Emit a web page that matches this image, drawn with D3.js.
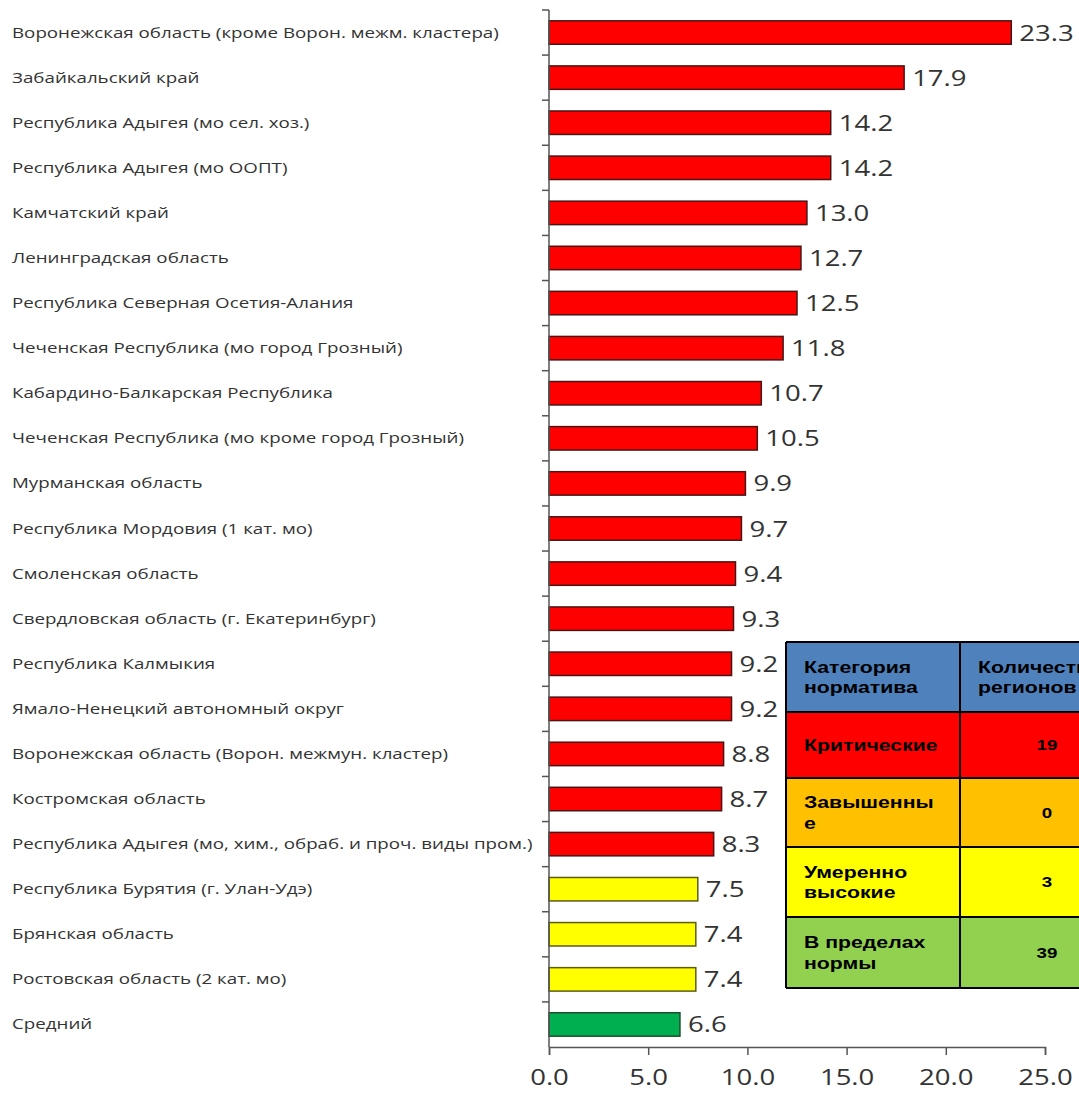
<!DOCTYPE html>
<html>
<head>
<meta charset="utf-8">
<script src="https://cdn.jsdelivr.net/npm/d3@7"></script>
<style>
  body { margin: 0; background: #fff; }
  svg { display: block; }
</style>
</head>
<body>
<div id="vis"></div>
<script>
// data
const REGIONS = [
  "Воронежская область (кроме Ворон. межм. кластера)",
  "Забайкальский край",
  "Республика Адыгея (мо сел. хоз.)",
  "Республика Адыгея (мо ООПТ)",
  "Камчатский край",
  "Ленинградская область",
  "Республика Северная Осетия-Алания",
  "Чеченская Республика (мо город Грозный)",
  "Кабардино-Балкарская Республика",
  "Чеченская Республика (мо кроме город Грозный)",
  "Мурманская область",
  "Республика Мордовия (1 кат. мо)",
  "Смоленская область",
  "Свердловская область (г. Екатеринбург)",
  "Республика Калмыкия",
  "Ямало-Ненецкий автономный округ",
  "Воронежская область (Ворон. межмун. кластер)",
  "Костромская область",
  "Республика Адыгея (мо, хим., обраб. и проч. виды пром.)",
  "Республика Бурятия (г. Улан-Удэ)",
  "Брянская область",
  "Ростовская область (2 кат. мо)",
  "Средний"
];
const VALUES = [23.3, 17.9, 14.2, 14.2, 13.0, 12.7, 12.5, 11.8, 10.7, 10.5, 9.9, 9.7, 9.4, 9.3, 9.2, 9.2, 8.8, 8.7, 8.3, 7.5, 7.4, 7.4, 6.6];
const LEVELS = ["crit","crit","crit","crit","crit","crit","crit","crit","crit","crit",
                "crit","crit","crit","crit","crit","crit","crit","crit","crit",
                "mod","mod","mod","avg"];
const X_TICKS = [0, 5, 10, 15, 20, 25];

// legend table
const TABLE_HEADER = [["Категория", "норматива"], ["Количество", "регионов"]];
const TABLE_CATS = [["Критические"], ["Завышенны", "е"], ["Умеренно", "высокие"], ["В пределах", "нормы"]];
const TABLE_COUNTS = [19, 0, 3, 39];

const FRAME_WIDTH = 1079;
const FRAME_HEIGHT = 1095;
const MARGINS = {left: 549, right: 34, top: 10, bottom: 48};
// the source picture is stretched sideways, so text gets widened too
const STRETCH = "scale(1.25,1)";

const BAR_FILL = {crit: "#ff0000", mod: "#ffff00", avg: "#00b050"};
const BAR_STROKE = {crit: "#4a1414", mod: "#5c5c14", avg: "#1e4d2b"};
const TABLE_FILLS = ["#ff0000", "#ffc000", "#ffff00", "#92d050"];

const svg = d3.select("#vis").append("svg")
  .attr("width", FRAME_WIDTH)
  .attr("height", FRAME_HEIGHT);

const X_SCALE = d3.scaleLinear()
  .domain([0, 25])
  .range([MARGINS.left, FRAME_WIDTH - MARGINS.right]);

const Y_SCALE = d3.scaleBand()
  .domain(REGIONS)
  .range([MARGINS.top, FRAME_HEIGHT - MARGINS.bottom])
  .paddingInner(0.48)
  .paddingOuter(0.24);

const bottom = FRAME_HEIGHT - MARGINS.bottom;
const step = Y_SCALE.step();

// bars
svg.append("g").selectAll("rect")
  .data(REGIONS)
  .join("rect")
  .attr("x", X_SCALE(0))
  .attr("y", d => Y_SCALE(d))
  .attr("width", (d, i) => X_SCALE(VALUES[i]) - X_SCALE(0))
  .attr("height", Y_SCALE.bandwidth())
  .attr("fill", (d, i) => BAR_FILL[LEVELS[i]])
  .attr("stroke", (d, i) => BAR_STROKE[LEVELS[i]])
  .attr("stroke-width", 1.5);

// value labels
svg.append("g").selectAll("text")
  .data(REGIONS)
  .join("text")
  .attr("transform", (d, i) => "translate(" + (X_SCALE(VALUES[i]) + 8) + "," + (Y_SCALE(d) + Y_SCALE.bandwidth() / 2 + 8) + ") " + STRETCH)
  .attr("font-family", "Open Sans, sans-serif")
  .attr("font-size", "22px")
  .attr("fill", "#333")
  .text((d, i) => VALUES[i].toFixed(1));

// category labels on the left
svg.append("g").selectAll("text")
  .data(REGIONS)
  .join("text")
  .attr("transform", d => "translate(12," + (Y_SCALE(d) + Y_SCALE.bandwidth() / 2 + 5) + ") " + STRETCH)
  .attr("font-family", "Open Sans, sans-serif")
  .attr("font-size", "15px")
  .attr("fill", "#333")
  .text(d => d);

// y axis: line + ticks at band edges
const yAxis = svg.append("g").attr("stroke", "#555").attr("stroke-width", 1.5);
yAxis.append("line")
  .attr("x1", X_SCALE(0)).attr("x2", X_SCALE(0))
  .attr("y1", MARGINS.top).attr("y2", bottom);
yAxis.selectAll("line.tick")
  .data(d3.range(REGIONS.length))
  .join("line")
  .attr("class", "tick")
  .attr("x1", X_SCALE(0) - 7).attr("x2", X_SCALE(0))
  .attr("y1", i => MARGINS.top + i * step)
  .attr("y2", i => MARGINS.top + i * step);

// x axis
const xAxis = svg.append("g")
  .attr("transform", "translate(0," + bottom + ")")
  .call(d3.axisBottom(X_SCALE).tickValues(X_TICKS).tickFormat(d3.format(".1f")).tickSizeOuter(0).tickSize(8).tickPadding(14));
xAxis.select(".domain").attr("stroke", "#555").attr("stroke-width", 1.5);
xAxis.selectAll(".tick line").attr("stroke", "#555").attr("stroke-width", 1.5);
xAxis.selectAll(".tick text")
  .attr("transform", STRETCH)
  .attr("font-family", "Open Sans, sans-serif")
  .attr("font-size", "22px")
  .attr("fill", "#333");

// legend table
const T_X = [786, 960, 1140];
const T_Y = [642, 712, 778, 847, 917, 988];
const tbl = svg.append("g");

tbl.selectAll("rect.row")
  .data(d3.range(5))
  .join("rect")
  .attr("class", "row")
  .attr("x", T_X[0]).attr("y", i => T_Y[i])
  .attr("width", T_X[2] - T_X[0]).attr("height", i => T_Y[i + 1] - T_Y[i])
  .attr("fill", i => i === 0 ? "#4f81bd" : TABLE_FILLS[i - 1]);

tbl.selectAll("line.h")
  .data(T_Y)
  .join("line")
  .attr("x1", T_X[0]).attr("x2", T_X[2])
  .attr("y1", d => d).attr("y2", d => d)
  .attr("stroke", "#000").attr("stroke-width", 2);
tbl.selectAll("line.v")
  .data(T_X)
  .join("line")
  .attr("class", "v")
  .attr("x1", d => d).attr("x2", d => d)
  .attr("y1", T_Y[0]).attr("y2", T_Y[5])
  .attr("stroke", "#000").attr("stroke-width", 2);

function cellText(lines, x, yMid, size, anchor) {
  const lh = size * 1.2;
  const y0 = -(lines.length - 1) * lh / 2 + size * 0.35;
  const t = tbl.append("text")
    .attr("transform", "translate(" + x + "," + yMid + ") " + STRETCH)
    .attr("font-family", "Liberation Sans, Arial, sans-serif")
    .attr("font-weight", "bold")
    .attr("font-size", size + "px")
    .attr("fill", "#000")
    .attr("text-anchor", anchor);
  lines.forEach((l, i) => {
    t.append("tspan").attr("x", 0).attr("y", y0 + i * lh).text(l);
  });
}

TABLE_HEADER.forEach((lines, c) => {
  cellText(lines, T_X[c] + 18, (T_Y[0] + T_Y[1]) / 2, 17, "start");
});
TABLE_CATS.forEach((lines, r) => {
  cellText(lines, T_X[0] + 18, (T_Y[r + 1] + T_Y[r + 2]) / 2, 17, "start");
  cellText([String(TABLE_COUNTS[r])], 1047, (T_Y[r + 1] + T_Y[r + 2]) / 2, 15, "middle");
});
</script>
</body>
</html>
